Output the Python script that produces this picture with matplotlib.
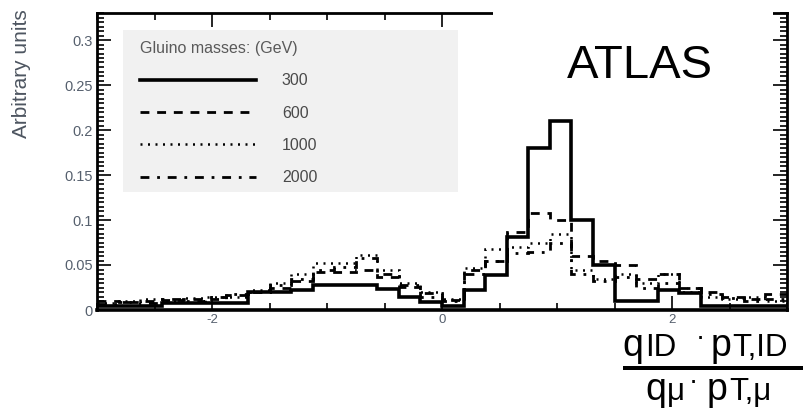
import numpy as np
import matplotlib.pyplot as plt
from matplotlib.patches import Rectangle
from matplotlib.ticker import MultipleLocator, FixedLocator

plt.rcParams['font.family'] = ['Liberation Sans', 'DejaVu Sans']

# 32 bins of q*pT ratio between -3 and 3
edges = np.linspace(-3, 3, 33)

masses = ['300', '600', '1000', '2000']

h300 = [0.004, 0.004, 0.004, 0.008, 0.008, 0.008, 0.008, 0.020,
        0.020, 0.022, 0.028, 0.028, 0.028, 0.023, 0.015, 0.009,
        0.005, 0.022, 0.039, 0.081, 0.180, 0.210, 0.100, 0.050,
        0.010, 0.010, 0.022, 0.019, 0.005, 0.004, 0.004, 0.004]
h600 = [0.010, 0.009, 0.010, 0.011, 0.012, 0.012, 0.017, 0.020,
        0.025, 0.032, 0.042, 0.042, 0.044, 0.037, 0.026, 0.019,
        0.011, 0.045, 0.055, 0.087, 0.108, 0.100, 0.060, 0.055,
        0.050, 0.035, 0.040, 0.025, 0.020, 0.015, 0.012, 0.018]
h1000 = [0.008, 0.010, 0.012, 0.010, 0.013, 0.015, 0.015, 0.022,
         0.030, 0.040, 0.052, 0.052, 0.061, 0.045, 0.030, 0.020,
         0.012, 0.047, 0.068, 0.070, 0.075, 0.085, 0.045, 0.035,
         0.040, 0.030, 0.040, 0.020, 0.015, 0.012, 0.014, 0.010]
h2000 = [0.007, 0.009, 0.008, 0.012, 0.010, 0.014, 0.018, 0.020,
         0.028, 0.035, 0.045, 0.048, 0.058, 0.040, 0.028, 0.015,
         0.010, 0.040, 0.055, 0.063, 0.064, 0.074, 0.040, 0.032,
         0.037, 0.025, 0.030, 0.025, 0.018, 0.013, 0.010, 0.012]

ytick_vals = [0, 0.05, 0.1, 0.15, 0.2, 0.25, 0.3]
ytick_labels = ['0', '0.05', '0.1', '0.15', '0.2', '0.25', '0.3']
xtick_vals = [-2, 0, 2]
xtick_labels = ['-2', '0', '2']

W, H = 804, 411


def px(x, y):
    # pixel position -> figure fraction
    return x / W, 1 - y / H


fig = plt.figure(figsize=(W / 100, H / 100), dpi=100)
ax = fig.add_axes([97 / W, 1 - 310 / H, 690 / W, 297 / H])

styles = [dict(lw=2.6, ls='-'),
          dict(lw=2.0, ls=(0, (3.2, 2.8))),
          dict(lw=1.8, ls=(0, (0.8, 2.2))),
          dict(lw=2.0, ls=(0, (3.2, 2.8, 1.0, 2.8)))]
for vals, m, st in zip([h300, h600, h1000, h2000], masses, styles):
    ax.stairs(vals, edges, color='black', label=m, baseline=None, **st)

ax.set_xlim(-3, 3)
ax.set_ylim(0, 0.33)

ax.yaxis.set_major_locator(FixedLocator(ytick_vals))
ax.set_yticklabels(ytick_labels)
ax.yaxis.set_minor_locator(MultipleLocator(0.005))
ax.xaxis.set_major_locator(FixedLocator(xtick_vals))
ax.set_xticklabels(xtick_labels)
ax.xaxis.set_minor_locator(MultipleLocator(0.5))

ax.tick_params(which='both', direction='in', top=True, right=True,
               colors='black', width=1.2)
ax.tick_params(which='major', length=10, pad=3, labelcolor='#56606e')
ax.tick_params(which='minor', length=5)
ax.tick_params(axis='y', labelsize=10.5)
ax.tick_params(axis='x', labelsize=9.5)
for s in ax.spines.values():
    s.set_linewidth(2)
ax.spines['bottom'].set_linewidth(2.6)

# legend panel
ax.add_patch(Rectangle((0.038, 0.397), 0.485, 0.546, transform=ax.transAxes,
                       facecolor='#f1f1f1', edgecolor='none', zorder=0))
leg = ax.legend(loc='upper left', bbox_to_anchor=(0.062, 0.905),
                frameon=False, fontsize=11.5, title='Gluino masses: (GeV)',
                title_fontsize=11.5, handlelength=7.3, handletextpad=1.6,
                labelspacing=1.08, borderpad=0, borderaxespad=0,
                alignment='left')
for t in leg.get_texts():
    t.set_color('#4a4a4a')
leg.get_title().set_color('#5a5a5a')

fig.text(*px(22, 9), 'Arbitrary units', rotation=90, ha='center', va='top',
         fontsize=15, color='#4d5560')

# white label box over the top right corner
fig.add_artist(Rectangle(px(493, 108), 280 / W, 108 / H,
                         transform=fig.transFigure, facecolor='white',
                         edgecolor='none', zorder=5))
fig.text(*px(640, 66), 'ATLAS', ha='center', va='center', fontsize=34,
         color='black', zorder=6)

# axis title written as a fraction
big, small = 27, 22.5
num = [('q', 622, big), ('ID', 645, small), ('p', 711, big), ('T,ID', 732, small)]
den = [('q', 645, big), ('μ', 667, small), ('p', 707, big), ('T,μ', 729, small)]
for parts, base in [(num, 356), (den, 400)]:
    for s, x, fs in parts:
        fig.text(*px(x, base), s, ha='left', va='baseline', fontsize=fs,
                 color='black')
fig.text(*px(700, 345), '·', ha='center', va='baseline', fontsize=20)
fig.text(*px(693, 389), '·', ha='center', va='baseline', fontsize=20)
fig.add_artist(Rectangle(px(623, 370), 181 / W, 4 / H,
                         transform=fig.transFigure, facecolor='black',
                         edgecolor='none'))

fig.savefig('out.png', dpi=100)
